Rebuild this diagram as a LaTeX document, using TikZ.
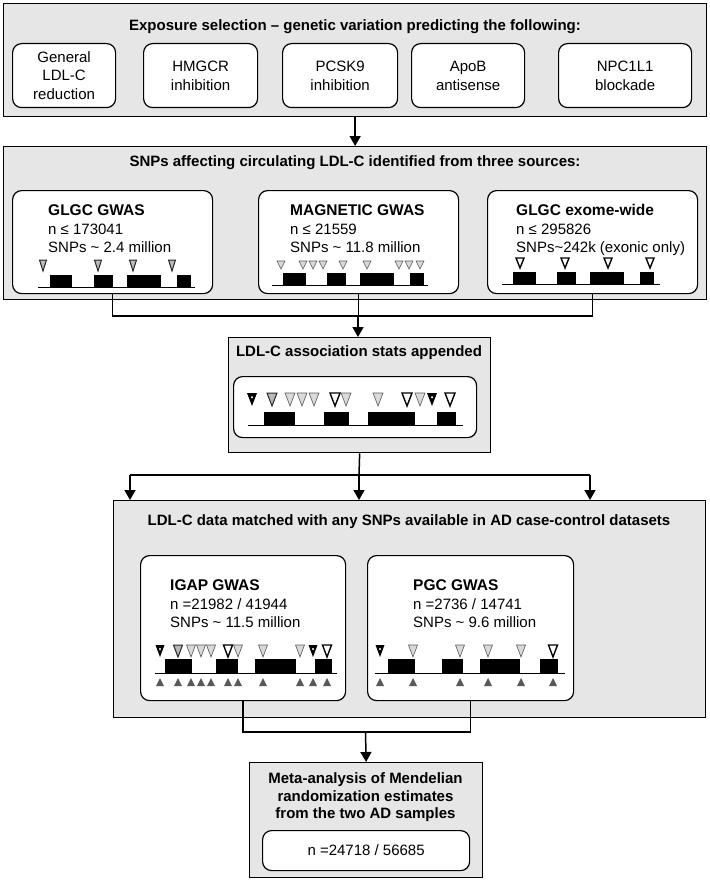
\documentclass[tikz,border=0pt]{standalone}
\usepackage{fontspec}
\setmainfont{Liberation Sans}
\usetikzlibrary{arrows.meta}
\definecolor{boxgray}{HTML}{E6E6E6}
\newcommand\dtri[5]{\path[#1] (#2,#3) ++(-0.5*#4,0) -- ++(#4,0) -- ++(-0.5*#4,#5) -- cycle;}
\newcommand\dtriD[4]{\dtri{tD}{#1}{#2}{#3}{#4}\fill[white] (#1,#2+0.33*#4) circle (1.2);}
\newcommand\utri[4]{\path[tU] (#1,#2) ++(-0.5*#3,0) -- ++(#3,0) -- ++(-0.5*#3,-#4) -- cycle;}
\begin{document}
\begin{tikzpicture}[x=1pt,y=-1pt,
  outer/.style={draw=black, fill=boxgray, line width=1.3pt, inner sep=0pt, anchor=north west},
  inbox/.style={draw=black, fill=white, line width=1.2pt, rounded corners=9pt, inner sep=0pt, anchor=north west, align=center, font=\fontsize{15}{18.7}\selectfont},
  title/.style={font=\fontsize{15}{17.6}\selectfont\bfseries, inner sep=0pt, align=center},
  info/.style={font=\fontsize{15}{18.5}\selectfont, inner sep=0pt, align=left, anchor=north west},
  conn/.style={line width=1.5pt},
  arr/.style={line width=1.5pt, -{Triangle[length=10pt,width=11pt]}},
  track/.style={line width=0.8pt},
  tA/.style={draw=black!85, fill=gray!55, line width=1pt},
  tM/.style={draw=black!65, fill=gray!30, line width=0.6pt},
  tE/.style={draw=black, fill=white, line width=1.4pt},
  tD/.style={fill=black},
  tU/.style={fill=black!65}
]
\useasboundingbox (0,0) rectangle (709,880);

% ---- Box A ----
\node[outer, minimum width=703pt, minimum height=113pt] (boxA) at (3,3) {};
\node[title] (tA) at (355,27) {Exposure selection -- genetic variation predicting the following:};
\node[inbox, minimum width=103pt, minimum height=64pt] (gen) at (12,43) {General\\LDL-C\\reduction};
\node[inbox, minimum width=114pt, minimum height=64pt] (hmg) at (143,43) {HMGCR\\inhibition};
\node[inbox, minimum width=115pt, minimum height=64pt] (pcsk) at (282,43) {PCSK9\\inhibition};
\node[inbox, minimum width=113pt, minimum height=64pt] (apob) at (411,43) {ApoB\\antisense};
\node[inbox, minimum width=133pt, minimum height=64pt] (npc) at (558,43) {NPC1L1\\blockade};

% ---- Box B ----
\node[outer, minimum width=703pt, minimum height=153pt] (boxB) at (3,146) {};
\node[title] (tB) at (355,163) {SNPs affecting circulating LDL-C identified from three sources:};
\node[inbox, minimum width=200pt, minimum height=103pt] (glgc) at (12,190) {};
\node[inbox, minimum width=200pt, minimum height=103pt] (magn) at (258,190) {};
\node[inbox, minimum width=210pt, minimum height=103pt] (exome) at (487,190) {};
\node[info] (glgct) at (48,204.5) {\textbf{\fontsize{15.5}{18.5}\selectfont GLGC GWAS}\\n ≤ 173041\\SNPs \textasciitilde{} 2.4 million};
\node[info] (magnt) at (290,204.5) {\textbf{\fontsize{15.5}{18.5}\selectfont MAGNETIC GWAS}\\n ≤ 21559\\SNPs \textasciitilde{} 11.8 million};
\node[info] (exomet) at (516,204.5) {\textbf{\fontsize{15.5}{18.5}\selectfont GLGC exome-wide}\\n ≤ 295826\\SNPs\textasciitilde{}242k (exonic only)};

% GLGC track
\draw[track] (38,287) -- (195,287);
\foreach \a/\b in {50/72,94/113,127/161,177/191} \fill (\a,275) rectangle (\b,287);
\foreach \x in {43,98,133,172} {\dtri{tA}{\x}{260}{7}{11}}
% MAGNETIC track
\draw[track] (272,285) -- (428,285);
\foreach \a/\b in {283/306,327/346,360/394,410/424} \fill (\a,273) rectangle (\b,285);
\foreach \x in {281,303,313,323,343,367,399,409,420} {\dtri{tM}{\x}{261}{8}{8}}
% exome track
\draw[track] (502,284) -- (660,284);
\foreach \a/\b in {513/536,557/576,590/624,640/654} \fill (\a,272) rectangle (\b,284);
\foreach \x in {520,565,608,650} {\dtri{tE}{\x}{258}{8}{10}}

% ---- Box C ----
\node[outer, minimum width=262pt, minimum height=115pt] (boxC) at (228,337) {};
\node[title] (tC) at (359,353) {LDL-C association stats appended};
\node[inbox, minimum width=243pt, minimum height=61pt] (comb) at (233,376) {};
\draw[track] (248,425) -- (463,425);
\foreach \a/\b in {264/295,324/349,368/415,437/456} \fill (\a,412) rectangle (\b,425);
\dtriD{252}{393}{10}{13}
\dtri{tA}{272}{393}{10}{13}
\foreach \x in {290,302,314,346,378,420} {\dtri{tM}{\x}{393}{10}{13}}
\foreach \x in {335,407,450} {\dtri{tE}{\x}{393}{10}{13}}
\dtriD{432}{393}{10}{13}

% ---- Box D ----
\node[outer, minimum width=592pt, minimum height=217pt] (boxD) at (113,500) {};
\node[title] (tD) at (409,522) {LDL-C data matched with any SNPs available in AD case-control datasets};
\node[inbox, minimum width=205pt, minimum height=145pt] (igap) at (140,555) {};
\node[inbox, minimum width=206pt, minimum height=145pt] (pgc) at (367,555) {};
\node[info] (igapt) at (170,579.5) {\textbf{\fontsize{15.5}{18.5}\selectfont IGAP GWAS}\\n =21982 / 41944\\SNPs \textasciitilde{} 11.5 million};
\node[info] (pgct) at (413,579.5) {\textbf{\fontsize{15.5}{18.5}\selectfont PGC GWAS}\\n =2736 / 14741\\SNPs \textasciitilde{} 9.6 million};
% IGAP track
\draw[track] (155,673) -- (337,673);
\foreach \a/\b in {165/192,216/238,255/296,315/332} \fill (\a,659) rectangle (\b,673);
\dtriD{160}{645}{9}{12}
\dtri{tA}{178}{645}{9}{12}
\foreach \x in {191,201,211,238,263,300} {\dtri{tM}{\x}{645}{9}{12}}
\foreach \x in {228,327} {\dtri{tE}{\x}{645}{9}{12}}
\dtriD{313}{645}{9}{12}
\foreach \x in {160,178,191,201,211,228,238,263,300,313,327} {\utri{\x}{686}{8}{8}}
% PGC track
\draw[track] (375,673) -- (565,673);
\foreach \a/\b in {388/415,442/463,480/520,540/558} \fill (\a,659) rectangle (\b,673);
\dtriD{380}{645}{9}{12}
\foreach \x in {413,460,488,521} {\dtri{tM}{\x}{645}{9}{12}}
\dtri{tE}{553}{645}{9}{12}
\foreach \x in {380,413,460,488,521,553} {\utri{\x}{686}{8}{8}}

% ---- Box E ----
\node[outer, minimum width=233pt, minimum height=115pt] (boxE) at (249,762) {};
\node[title] (tE) at (365.5,797.5) {Meta-analysis of Mendelian\\randomization estimates\\from the two AD samples};
\node[inbox, minimum width=207pt, minimum height=40pt] (nbox) at (262,830) {n =24718 / 56685};

% ---- connectors ----
\draw[arr] (boxA.south) -- (boxA.south |- boxB.north);
\coordinate (barB) at (358,316);
\draw[conn] (glgc.south) -- (glgc.south |- barB) -- (exome.south |- barB) -- (exome.south);
\draw[conn] (magn.south) -- (magn.south |- barB);
\draw[arr] (barB) -- (barB |- boxC.north);
\coordinate (barC) at (359,475);
\coordinate (dl) at (130,475);
\coordinate (dr) at (590,475);
\draw[conn] (boxC.south) -- (barC);
\draw[conn] (dl) -- (dr);
\draw[arr] (dl) -- (dl |- boxD.north);
\draw[arr] (barC) -- (barC |- boxD.north);
\draw[arr] (dr) -- (dr |- boxD.north);
\coordinate (barD) at (365.5,732);
\draw[conn] (igap.south) -- (igap.south |- barD) -- (pgc.south |- barD) -- (pgc.south);
\draw[arr] (barD) -- (boxE.north);
\end{tikzpicture}
\end{document}
